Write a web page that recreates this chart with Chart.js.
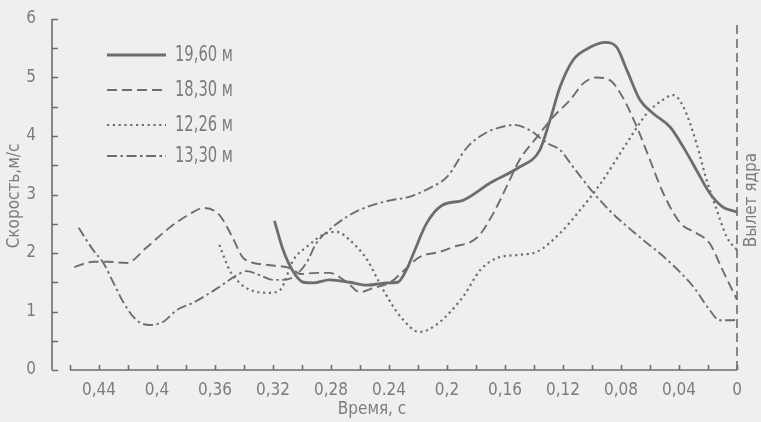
<!DOCTYPE html>
<html>
<head>
<meta charset="utf-8">
<script src="https://cdn.jsdelivr.net/npm/chart.js@4/dist/chart.umd.min.js"></script>
<style>
  html, body { margin: 0; padding: 0; background: #efefef; }
  canvas { display: block; }
</style>
</head>
<body>
<canvas id="c" width="761" height="422"></canvas>
<script>
// Время до вылета ядра, с (ось идёт справа налево) и скорость, м/с
const t1960 = [0.319, 0.313, 0.306, 0.299, 0.292, 0.281, 0.267, 0.255, 0.241, 0.234, 0.228, 0.223, 0.214, 0.203, 0.189, 0.170, 0.150, 0.136, 0.129, 0.122, 0.113, 0.101, 0.091, 0.083, 0.076, 0.067, 0.058, 0.046, 0.037, 0.028, 0.019, 0.010, 0.000];
const v1960 = [2.55, 2.05, 1.68, 1.50, 1.49, 1.54, 1.50, 1.45, 1.49, 1.50, 1.71, 2.00, 2.51, 2.82, 2.90, 3.20, 3.47, 3.76, 4.27, 4.84, 5.30, 5.52, 5.60, 5.52, 5.13, 4.62, 4.39, 4.15, 3.81, 3.42, 3.03, 2.79, 2.70];

const t1830 = [0.457, 0.444, 0.434, 0.421, 0.407, 0.391, 0.375, 0.368, 0.357, 0.348, 0.341, 0.336, 0.322, 0.308, 0.301, 0.290, 0.281, 0.269, 0.260, 0.251, 0.239, 0.228, 0.219, 0.205, 0.196, 0.179, 0.168, 0.159, 0.150, 0.138, 0.127, 0.115, 0.106, 0.097, 0.088, 0.079, 0.069, 0.060, 0.051, 0.039, 0.028, 0.019, 0.010, 0.000];
const v1830 = [1.76, 1.85, 1.85, 1.83, 2.10, 2.44, 2.70, 2.77, 2.65, 2.27, 1.93, 1.85, 1.79, 1.74, 1.64, 1.66, 1.66, 1.50, 1.33, 1.40, 1.50, 1.74, 1.93, 2.02, 2.10, 2.27, 2.68, 3.13, 3.59, 3.98, 4.32, 4.62, 4.90, 5.00, 4.96, 4.67, 4.15, 3.59, 3.03, 2.51, 2.34, 2.17, 1.71, 1.20];

const t1226 = [0.357, 0.350, 0.343, 0.336, 0.322, 0.315, 0.306, 0.297, 0.283, 0.276, 0.267, 0.255, 0.244, 0.232, 0.219, 0.207, 0.189, 0.177, 0.166, 0.150, 0.138, 0.122, 0.108, 0.094, 0.076, 0.062, 0.051, 0.044, 0.037, 0.028, 0.021, 0.014, 0.007, 0.000];
const v1226 = [2.14, 1.71, 1.49, 1.37, 1.32, 1.37, 1.88, 2.10, 2.34, 2.36, 2.22, 1.88, 1.37, 0.91, 0.65, 0.78, 1.25, 1.71, 1.91, 1.97, 2.02, 2.34, 2.74, 3.19, 3.88, 4.39, 4.62, 4.70, 4.50, 3.88, 3.25, 2.74, 2.27, 2.05];

const t1330 = [0.454, 0.444, 0.437, 0.430, 0.423, 0.414, 0.405, 0.396, 0.386, 0.375, 0.357, 0.345, 0.338, 0.329, 0.320, 0.313, 0.306, 0.297, 0.290, 0.279, 0.267, 0.255, 0.239, 0.226, 0.212, 0.200, 0.186, 0.172, 0.163, 0.154, 0.143, 0.131, 0.122, 0.113, 0.099, 0.086, 0.067, 0.048, 0.030, 0.019, 0.012, 0.003, 0.000];
const v1330 = [2.43, 2.05, 1.83, 1.49, 1.15, 0.85, 0.77, 0.82, 1.03, 1.15, 1.42, 1.62, 1.69, 1.62, 1.54, 1.54, 1.59, 1.83, 2.17, 2.44, 2.65, 2.79, 2.90, 2.96, 3.11, 3.30, 3.81, 4.07, 4.15, 4.19, 4.10, 3.88, 3.76, 3.47, 3.03, 2.68, 2.27, 1.88, 1.42, 1.03, 0.85, 0.85, 0.87];

const seriesNames = ['19,60 м', '18,30 м', '12,26 м', '13,30 м'];

const xTickValues = [0.44, 0.40, 0.36, 0.32, 0.28, 0.24, 0.20, 0.16, 0.12, 0.08, 0.04, 0];
const xTickLabels = ['0,44', '0,4', '0,36', '0,32', '0,28', '0.24', '0,2', '0,16', '0,12', '0,08', '0,04', '0'];
const yTickValues = [0, 1, 2, 3, 4, 5, 6];

const xTitle = 'Время, с';
const yTitle = 'Скорость,м/с';
const releaseLabel = 'Вылет ядра';

const INK = '#6d6d6d';
const TEXT = '#7c7c7c';
const FONT = "'DejaVu Sans Condensed', 'Liberation Sans Narrow', sans-serif";

const styles = [
  { width: 2.8, dash: [] },
  { width: 1.9, dash: [10, 5] },
  { width: 2.2, dash: [2.2, 3.6] },
  { width: 1.9, dash: [10, 3.5, 2.5, 3.5] }
];

function pts(ts, vs) { return ts.map((t, i) => ({ x: t, y: vs[i] })); }

const datasets = [[t1960, v1960], [t1830, v1830], [t1226, v1226], [t1330, v1330]].map((p, i) => ({
  label: seriesNames[i],
  data: pts(p[0], p[1]),
  borderColor: INK,
  borderWidth: styles[i].width,
  borderDash: styles[i].dash,
  borderCapStyle: 'butt',
  pointRadius: 0,
  fill: false,
  cubicInterpolationMode: 'monotone'
}));

// Оси, засечки, легенда и подписи рисуются поверх шкал Chart.js
const decor = {
  id: 'decor',
  beforeDraw(chart) {
    const c = chart.ctx;
    c.save();
    c.fillStyle = '#efefef';
    c.fillRect(0, 0, chart.width, chart.height);
    c.restore();
  },
  afterDraw(chart) {
    const c = chart.ctx;
    const xs = chart.scales.x, ys = chart.scales.y;
    const y0 = ys.getPixelForValue(0), yTop = ys.getPixelForValue(6);
    const xAxisLeft = xs.getPixelForValue(0.46), x0 = xs.getPixelForValue(0);
    const yAxisX = chart.chartArea.left;
    c.save();
    c.strokeStyle = INK;
    c.lineWidth = 1.6;
    c.setLineDash([]);
    // ось скорости
    c.beginPath();
    c.moveTo(yAxisX, yTop); c.lineTo(yAxisX, y0);
    for (let v = 0; v <= 6.001; v += 0.5) {
      const py = Math.round(ys.getPixelForValue(v)) + 0.5;
      c.moveTo(yAxisX, py); c.lineTo(yAxisX + 6, py);
    }
    c.stroke();
    // ось времени
    c.beginPath();
    c.moveTo(xAxisLeft, y0); c.lineTo(x0, y0);
    for (let k = 0; k <= 23; k++) {
      const px = Math.round(xs.getPixelForValue(k * 0.02)) + 0.5;
      c.moveTo(px, y0); c.lineTo(px, y0 - 5);
    }
    c.stroke();
    // момент вылета ядра
    c.beginPath();
    c.setLineDash([9, 5]);
    c.lineWidth = 1.6;
    c.moveTo(x0, 25); c.lineTo(x0, y0);
    c.stroke();
    c.setLineDash([]);

    // легенда: образцы линий и узкие высокие подписи
    const legX0 = 107, legX1 = 166, legText = 175;
    const legY = [55, 90, 125, 156];
    c.fillStyle = TEXT;
    c.textBaseline = 'middle';
    c.textAlign = 'left';
    legY.forEach((ly, i) => {
      c.beginPath();
      c.lineWidth = styles[i].width;
      c.setLineDash(styles[i].dash);
      c.moveTo(legX0, ly); c.lineTo(legX1, ly);
      c.stroke();
      c.save();
      c.translate(legText, ly + 1);
      c.scale(0.78, 1);
      c.font = '21px ' + FONT;
      c.fillText(seriesNames[i], 0, 0);
      c.restore();
    });
    c.setLineDash([]);

    // подписи осей
    c.font = '17px ' + FONT;
    c.textAlign = 'center';
    c.textBaseline = 'middle';
    c.fillText(xTitle, 372, 410);
    c.save();
    c.translate(15, 196);
    c.rotate(-Math.PI / 2);
    c.fillText(yTitle, 0, 0);
    c.restore();
    c.save();
    c.translate(752, 200);
    c.rotate(-Math.PI / 2);
    c.fillText(releaseLabel, 0, 0);
    c.restore();
    c.restore();
  }
};

new Chart(document.getElementById('c'), {
  type: 'line',
  data: { datasets },
  options: {
    responsive: false,
    animation: false,
    events: [],
    layout: { padding: { top: 19, right: 24, left: 0, bottom: 0 } },
    plugins: { legend: { display: false }, tooltip: { enabled: false } },
    scales: {
      x: {
        type: 'linear',
        reverse: true,
        min: 0,
        max: 0.4724,
        afterBuildTicks: s => { s.ticks = xTickValues.map(v => ({ value: v })); },
        afterFit: s => { s.height = 52; },
        grid: { display: false },
        border: { display: false },
        ticks: {
          autoSkip: false,
          maxRotation: 0,
          padding: 2,
          color: TEXT,
          font: { family: FONT, size: 17 },
          callback: v => {
            const i = xTickValues.findIndex(x => Math.abs(x - v) < 1e-6);
            return i >= 0 ? xTickLabels[i] : '';
          }
        }
      },
      y: {
        min: 0,
        max: 6,
        afterBuildTicks: s => { s.ticks = yTickValues.map(v => ({ value: v })); },
        afterFit: s => { s.width = 52; },
        grid: { display: false },
        border: { display: false },
        ticks: {
          padding: 8,
          color: TEXT,
          font: { family: FONT, size: 17 },
          callback: v => String(v)
        }
      }
    }
  },
  plugins: [decor]
});
</script>
</body>
</html>
